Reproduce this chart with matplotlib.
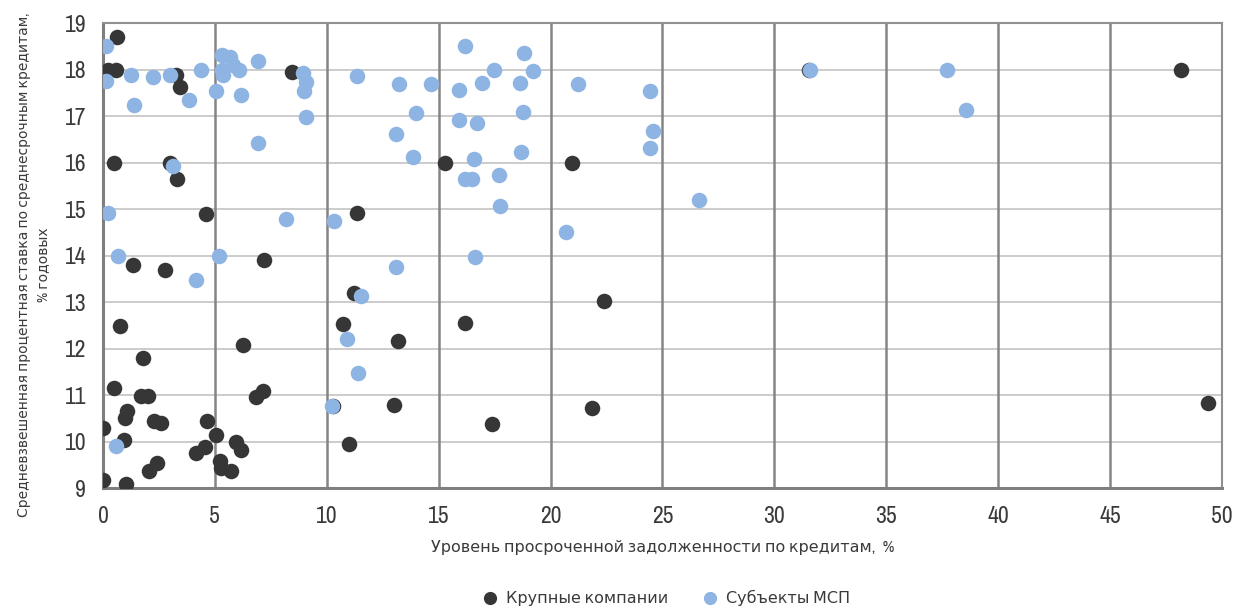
import matplotlib.pyplot as plt
from matplotlib import font_manager

# Крупные компании
large_x = [0.63, 0.22, 0.58, 0.5, 3.26, 3.44, 3.0, 3.3, 4.6, 8.45,
           1.34, 2.77, 7.2, 0.76, 1.79, 6.26, 0.5, 1.7, 2.0, 1.07,
           0.98, 2.3, 2.6, 0.0, 0.94, 4.65, 5.05, 5.94, 6.17, 4.16,
           4.56, 5.23, 5.27, 5.72, 2.06, 2.41, 0.0, 1.03, 6.84, 7.15,
           11.35, 11.2, 10.72, 13.18, 10.28, 13.0, 11.0, 15.28, 20.96, 16.18,
           17.4, 22.38, 21.84, 31.55, 48.17, 49.37]
large_y = [18.7, 18.0, 18.0, 16.0, 17.88, 17.62, 16.0, 15.65, 14.9, 17.95,
           13.8, 13.7, 13.9, 12.48, 11.8, 12.08, 11.15, 10.98, 10.98, 10.66,
           10.5, 10.45, 10.4, 10.3, 10.03, 10.44, 10.14, 10.0, 9.82, 9.75,
           9.88, 9.58, 9.43, 9.37, 9.37, 9.54, 9.17, 9.09, 10.96, 11.09,
           14.91, 13.19, 12.53, 12.16, 10.76, 10.79, 9.95, 16.0, 16.0, 12.55,
           10.38, 13.02, 10.72, 17.99, 17.99, 10.83]

# Субъекты МСП
sme_x = [0.13, 0.13, 0.22, 0.67, 0.58, 1.25, 1.38, 2.23, 2.99, 3.13,
         3.84, 4.38, 4.16, 5.05, 5.18, 5.32, 5.68, 5.32, 5.36, 5.81,
         6.08, 6.17, 6.93, 6.93, 8.18, 8.94, 9.07, 8.98, 9.07, 10.32,
         11.35, 10.9, 11.53, 11.39, 10.23, 13.22, 13.09, 13.09, 13.85, 14.0,
         14.65, 15.9, 15.9, 16.18, 16.2, 16.5, 16.6, 16.7, 16.64, 16.94,
         17.47, 17.69, 17.74, 18.63, 18.81, 18.77, 18.68, 19.21, 21.22, 20.69,
         24.44, 24.58, 24.44, 26.63, 31.6, 37.7, 38.56]
sme_y = [18.5, 17.75, 14.91, 13.99, 9.9, 17.88, 17.24, 17.84, 17.88, 15.92,
         17.34, 17.99, 13.47, 17.54, 13.99, 18.31, 18.27, 17.99, 17.88, 18.1,
         17.99, 17.45, 18.18, 16.42, 14.78, 17.92, 17.73, 17.54, 16.98, 14.74,
         17.86, 12.2, 13.13, 11.47, 10.76, 17.69, 16.61, 13.75, 16.12, 17.06,
         17.69, 17.56, 16.91, 18.5, 15.65, 15.65, 16.08, 16.85, 13.97, 17.71,
         17.99, 15.73, 15.06, 17.71, 18.35, 17.09, 16.23, 17.97, 17.69, 14.51,
         17.54, 16.68, 16.31, 15.19, 17.99, 17.99, 17.13]

x_ticks = list(range(0, 51, 5))
y_ticks = list(range(9, 20))

# narrow font if one is installed
fonts = font_manager.fontManager.ttflist
narrow = sorted({f.name for f in fonts if 'Narrow' in f.name or 'Condensed' in f.name})
if narrow:
    plt.rcParams['font.family'] = [narrow[0], 'DejaVu Sans']
else:
    plt.rcParams['font.family'] = ['DejaVu Sans']
    plt.rcParams['font.stretch'] = 'condensed'

dark = '#363636'
blue = '#8db4e2'
txt = '#3a3a3a'

fig = plt.figure(figsize=(12.33, 6.08), dpi=100)
ax = fig.add_axes([0.0835, 0.197, 0.9075, 0.765])

ax.scatter(large_x, large_y, s=125, color=dark, label='Крупные компании', zorder=3, linewidths=0)
ax.scatter(sme_x, sme_y, s=125, color=blue, label='Субъекты МСП', zorder=4, linewidths=0)

ax.set_xlim(0, 50)
ax.set_ylim(9, 19)
ax.set_xticks(x_ticks)
ax.set_yticks(y_ticks)
ax.tick_params(length=0, labelsize=17, colors=txt)
ax.tick_params(axis='x', pad=13)
ax.tick_params(axis='y', pad=12)

for v in x_ticks[1:-1]:
    ax.axvline(v, color='#858585', lw=1.8, zorder=1)
for v in y_ticks[1:-1]:
    ax.axhline(v, color='#c4c4c4', lw=1.2, zorder=0)

for side in ['top', 'right']:
    ax.spines[side].set_color('#909090')
    ax.spines[side].set_linewidth(1.5)
for side in ['left', 'bottom']:
    ax.spines[side].set_color('#7f7f7f')
    ax.spines[side].set_linewidth(2.2)

ax.set_xlabel('Уровень просроченной задолженности по кредитам,  %', fontsize=11.5,
              color=txt, labelpad=9)
ax.set_ylabel('Средневзвешенная процентная ставка по среднесрочным кредитам,\n% годовых',
              fontsize=10, color=txt, linespacing=1.45)
ax.yaxis.set_label_coords(-0.047, 0.48)

ax.legend(loc='center', bbox_to_anchor=(0.5, -0.235), ncol=2, frameon=False,
          fontsize=11.5, markerscale=0.85, handletextpad=0.0, columnspacing=1.6,
          labelcolor=txt, borderpad=0)

fig.savefig('out.png', dpi=100)
